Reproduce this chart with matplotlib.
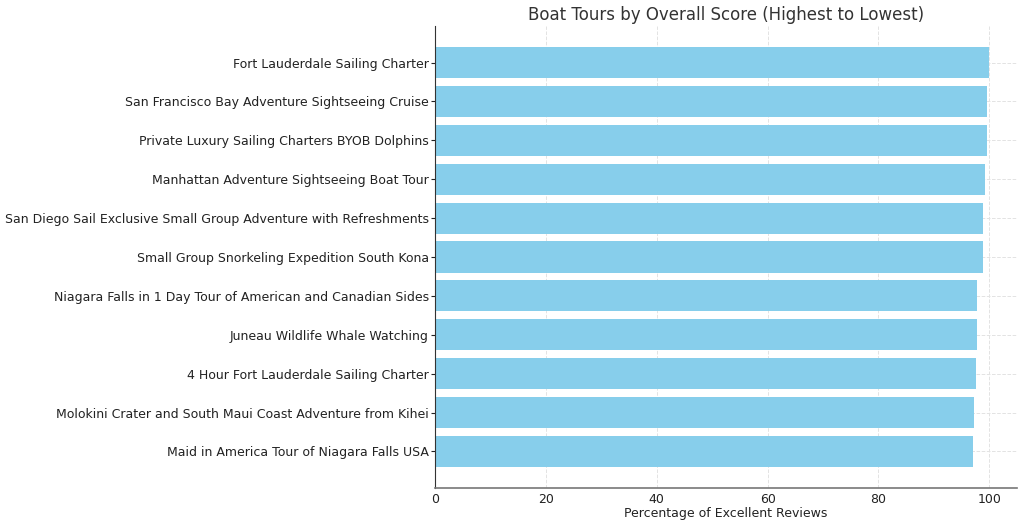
import matplotlib.pyplot as plt

tours = [
    "Fort Lauderdale Sailing Charter",
    "San Francisco Bay Adventure Sightseeing Cruise",
    "Private Luxury Sailing Charters BYOB Dolphins",
    "Manhattan Adventure Sightseeing Boat Tour",
    "San Diego Sail Exclusive Small Group Adventure with Refreshments",
    "Small Group Snorkeling Expedition South Kona",
    "Niagara Falls in 1 Day Tour of American and Canadian Sides",
    "Juneau Wildlife Whale Watching",
    "4 Hour Fort Lauderdale Sailing Charter",
    "Molokini Crater and South Maui Coast Adventure from Kihei",
    "Maid in America Tour of Niagara Falls USA",
]
excellent = [100.0, 99.6, 99.5, 99.3, 98.8, 98.8, 97.8, 97.8, 97.6, 97.3, 97.1]

fig = plt.figure(figsize=(10.24, 5.29), dpi=100)
ax = fig.add_axes([435/1024, 1 - 488/529, (1017-435)/1024, (488-26)/529])

ax.barh(tours[::-1], excellent[::-1], color="skyblue", zorder=2)
ax.set_xlim(0, 105)
ax.set_xlabel("Percentage of Excellent Reviews", fontsize=9, color="#222222", labelpad=1)
ax.set_title("Boat Tours by Overall Score (Highest to Lowest)", fontsize=12, color="#333333", pad=4)
ax.grid(True, linestyle="--", color="#e3e3e3", linewidth=0.7, zorder=0)
ax.spines["top"].set_visible(False)
ax.spines["right"].set_visible(False)
ax.spines["left"].set_color("#333333")
ax.spines["bottom"].set_color("#777777")
ax.spines["bottom"].set_linewidth(1.2)
ax.tick_params(labelsize=9, colors="#222222")
ax.tick_params(axis="x", length=0, pad=3.5)
ax.tick_params(axis="y", length=3, pad=1.5)

fig.savefig("out.png", dpi=100)
